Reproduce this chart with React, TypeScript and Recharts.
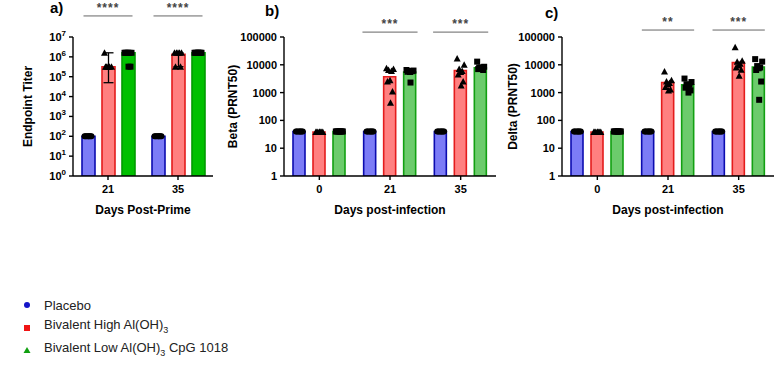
import React from "react";
import {
  ComposedChart,
  Bar,
  Scatter,
  XAxis,
  YAxis,
  ErrorBar,
  ReferenceLine,
  Label,
} from "recharts";

const FONT = "Arial, 'Liberation Sans', Helvetica, sans-serif";

// a) endpoint titer after prime
const daysA = ["21", "35"];
const placeboA = [100, 100];
const highA = [320000, 1360000];
const lowA = [1600000, 1600000];
const highErrA = [
  [270000, 1280000],
  [1040000, 240000],
];
const placeboPtsA = [
  [100, 100, 100, 100, 100, 100, 100, 100],
  [100, 100, 100, 100, 100, 100, 100, 100],
];
const highPtsA = [
  [1600000, 320000, 320000, 320000, 320000, 320000],
  [1600000, 1600000, 1600000, 1600000, 1600000, 320000, 320000],
];
const lowPtsA = [
  [1600000, 1600000, 1600000, 1600000, 1600000, 1600000, 320000, 320000],
  [1600000, 1600000, 1600000, 1600000, 1600000, 1600000, 1600000, 1600000],
];
const ticksA = [1, 10, 100, 1000, 10000, 100000, 1000000, 10000000];
const sigA = ["****", "****"];

// b) Beta neutralisation
const daysB = ["0", "21", "35"];
const placeboB = [40, 40, 40];
const highB = [38, 3700, 6200];
const lowB = [40, 5500, 7800];
const placeboPtsB = [
  [40, 40, 40, 40, 40, 40, 40, 40],
  [40, 40, 40, 40, 40, 40, 40, 40],
  [40, 40, 40, 40, 40, 40, 40, 40],
];
const highPtsB = [
  [38, 38, 38, 38, 38, 38, 38, 38],
  [7500, 7000, 6500, 6000, 2800, 2500, 1100, 430],
  [17000, 10000, 7000, 6000, 5500, 4500, 2500, 1800],
];
const lowPtsB = [
  [40, 40, 40, 40, 40, 40, 40, 40],
  [6500, 6200, 6000, 5800, 5500, 5600, 6000, 2300],
  [13000, 8500, 8000, 7500, 7500, 7000, 6500, 8000],
];
const sigB = ["", "***", "***"];

// c) Delta neutralisation
const daysC = ["0", "21", "35"];
const placeboC = [40, 40, 40];
const highC = [38, 2300, 12000];
const lowC = [40, 1900, 8300];
const placeboPtsC = placeboPtsB;
const highPtsC = [
  [38, 38, 38, 38, 38, 38, 38, 38],
  [5700, 2800, 2500, 2200, 2000, 1600, 1300, 1200],
  [43000, 14000, 13000, 11000, 9500, 8000, 6600, 4000],
];
const lowPtsC = [
  [40, 40, 40, 40, 40, 40, 40, 40],
  [3200, 2400, 2000, 1900, 1800, 1500, 1200, 1000],
  [16000, 13000, 9000, 8000, 7500, 6500, 2500, 550],
];
const sigC = ["", "**", "***"];

const ticksBC = [1, 10, 100, 1000, 10000, 100000];

const BLUE = { fill: "#7c7cf6", stroke: "#0c0cb0" };
const RED = { fill: "#ff8080", stroke: "#e41c1c" };
const GREEN_DARK = { fill: "#00c000", stroke: "#009a00" };
const GREEN_LIGHT = { fill: "#6ccb6c", stroke: "#12a012" };

// horizontal spread of the dots inside a bar, in px
const JITTER = [-3.5, 3.5, -1.5, 1.5, 0, -2.5, 2.5, 0.5];

function PowerTick(props: any) {
  const { x, y, payload } = props;
  const exp = Math.round(Math.log10(payload.value));
  return (
    <text x={x} y={y} dy={4} textAnchor="end" fontSize={11} fontWeight="bold" fill="#000" fontFamily={FONT}>
      <tspan>10</tspan>
      <tspan dy={-5} fontSize={8}>
        {exp}
      </tspan>
    </text>
  );
}

function Marker(props: any) {
  const { cx, cy, payload } = props;
  if (cx == null || cy == null) return null;
  if (payload.kind === "circle") return <circle cx={cx} cy={cy} r={3} fill="#000" />;
  if (payload.kind === "square") return <rect x={cx - 3} y={cy - 3} width={6} height={6} fill="#000" />;
  return <path d={`M${cx},${cy - 3.5} L${cx + 3.5},${cy + 3} L${cx - 3.5},${cy + 3} Z`} fill="#000" />;
}

type PanelProps = {
  left: number;
  width: number;
  yAxisWidth: number;
  marginRight: number;
  labelOffset: number;
  days: string[];
  placebo: number[];
  high: number[];
  low: number[];
  highErr?: number[][];
  placeboPts: number[][];
  highPts: number[][];
  lowPts: number[][];
  ticks: number[];
  powerTicks?: boolean;
  yLabel: string;
  xLabel: string;
  sig: string[];
  sigY: number;
  sigHalf: number;
  barSize: number;
  barGap: number;
  green: { fill: string; stroke: string };
};

function Panel(p: PanelProps) {
  const height = 220;
  const top = 37;
  const plotW = p.width - p.yAxisWidth - p.marginRight;
  const band = plotW / p.days.length;
  const step = (p.barSize + p.barGap) / band;

  const rows = p.days.map((d, i) => ({
    day: d,
    placebo: p.placebo[i],
    high: p.high[i],
    low: p.low[i],
    highErr: p.highErr ? p.highErr[i] : undefined,
  }));

  const dots = (pts: number[][], shift: number, kind: string) =>
    pts.flatMap((vals, g) =>
      vals.map((v, k) => ({ x: g + shift * step + JITTER[k % JITTER.length] / band, y: v, kind }))
    );

  const axisTick = { fontSize: 11, fontWeight: "bold", fill: "#000", fontFamily: FONT };
  const maxY = p.ticks[p.ticks.length - 1];

  return (
    <div style={{ position: "absolute", left: p.left, top: 0 }}>
      <ComposedChart
        width={p.width}
        height={height}
        data={rows}
        margin={{ top, right: p.marginRight, bottom: 0, left: 0 }}
        barGap={p.barGap}
      >
        <XAxis
          xAxisId="cat"
          dataKey="day"
          height={44}
          axisLine={{ stroke: "#000", strokeWidth: 1.4 }}
          tickLine={{ stroke: "#000", strokeWidth: 1.4 }}
          tickSize={4}
          tickMargin={5}
          tick={axisTick}
        >
          <Label
            value={p.xLabel}
            position="insideBottom"
            offset={6}
            style={{ fontSize: 12, fontWeight: "bold", fill: "#000", fontFamily: FONT }}
          />
        </XAxis>
        <XAxis
          xAxisId="num"
          type="number"
          dataKey="x"
          domain={[-0.5, p.days.length - 0.5]}
          allowDataOverflow
          hide
        />
        <YAxis
          scale="log"
          domain={[1, maxY]}
          ticks={p.ticks}
          allowDataOverflow
          width={p.yAxisWidth}
          axisLine={{ stroke: "#000", strokeWidth: 1.4 }}
          tickLine={{ stroke: "#000", strokeWidth: 1.4 }}
          tickSize={4}
          tickMargin={3}
          tick={p.powerTicks ? <PowerTick /> : axisTick}
          interval={0}
        >
          <Label
            value={p.yLabel}
            angle={-90}
            position="insideLeft"
            offset={p.labelOffset}
            style={{ fontSize: 12, fontWeight: "bold", fill: "#000", fontFamily: FONT, textAnchor: "middle" }}
          />
        </YAxis>
        <Bar
          xAxisId="cat"
          dataKey="placebo"
          barSize={p.barSize}
          fill={BLUE.fill}
          stroke={BLUE.stroke}
          strokeWidth={1.6}
          isAnimationActive={false}
        />
        <Bar
          xAxisId="cat"
          dataKey="high"
          barSize={p.barSize}
          fill={RED.fill}
          stroke={RED.stroke}
          strokeWidth={1.6}
          isAnimationActive={false}
        >
          {p.highErr && (
            <ErrorBar dataKey="highErr" width={5} stroke="#000" strokeWidth={1.3} direction="y" />
          )}
        </Bar>
        <Bar
          xAxisId="cat"
          dataKey="low"
          barSize={p.barSize}
          fill={p.green.fill}
          stroke={p.green.stroke}
          strokeWidth={1.6}
          isAnimationActive={false}
        />
        <Scatter xAxisId="num" data={dots(p.placeboPts, -1, "circle")} dataKey="y" shape={<Marker />} isAnimationActive={false} />
        <Scatter xAxisId="num" data={dots(p.highPts, 0, "triangle")} dataKey="y" shape={<Marker />} isAnimationActive={false} />
        <Scatter xAxisId="num" data={dots(p.lowPts, 1, "square")} dataKey="y" shape={<Marker />} isAnimationActive={false} />
        {p.sig.map((s, i) =>
          s ? (
            <ReferenceLine
              key={i}
              xAxisId="num"
              ifOverflow="visible"
              stroke="#666"
              strokeWidth={1}
              segment={[
                { x: i - p.sigHalf, y: p.sigY },
                { x: i + p.sigHalf, y: p.sigY },
              ]}
            >
              <Label
                value={s}
                position="top"
                offset={4}
                style={{ fontSize: 12, fontWeight: "bold", fill: "#444", fontFamily: FONT, letterSpacing: 1 }}
              />
            </ReferenceLine>
          ) : null
        )}
      </ComposedChart>
    </div>
  );
}

const legendItems = [
  { key: "placebo", label: <>Placebo</>, color: "#1414c8", shape: "circle" },
  { key: "high", label: <>Bivalent High Al(OH)<sub style={{ fontSize: 9 }}>3</sub></>, color: "#f01414", shape: "square" },
  {
    key: "low",
    label: <>Bivalent Low Al(OH)<sub style={{ fontSize: 9 }}>3</sub> CpG 1018</>,
    color: "#10a010",
    shape: "triangle",
  },
];

function Legend() {
  return (
    <div style={{ position: "absolute", left: 21, top: 294 }}>
      {legendItems.map((it) => (
        <div key={it.key} style={{ display: "flex", alignItems: "center", height: 22.5 }}>
          <svg width={12} height={12} style={{ marginRight: 11 }}>
            {it.shape === "circle" && <circle cx={6} cy={6} r={3} fill={it.color} />}
            {it.shape === "square" && <rect x={3} y={3} width={6} height={6} fill={it.color} />}
            {it.shape === "triangle" && <path d="M6,3 L9.5,9 L2.5,9 Z" fill={it.color} />}
          </svg>
          <span style={{ fontSize: 13, color: "#222", fontFamily: FONT, lineHeight: "13px" }}>{it.label}</span>
        </div>
      ))}
    </div>
  );
}

const titleStyle: React.CSSProperties = {
  position: "absolute",
  fontSize: 15,
  fontWeight: "bold",
  fontFamily: FONT,
  lineHeight: "15px",
  color: "#000",
};

export default function App() {
  return (
    <div style={{ position: "absolute", left: 0, top: 0, width: 776, height: 375, background: "#fff", overflow: "hidden" }}>
      <div style={{ ...titleStyle, left: 50, top: 0 }}>a)</div>
      <div style={{ ...titleStyle, left: 265, top: 3 }}>b)</div>
      <div style={{ ...titleStyle, left: 545, top: 5 }}>c)</div>
      <Panel
        left={0}
        width={220}
        yAxisWidth={73}
        marginRight={7}
        labelOffset={28}
        days={daysA}
        placebo={placeboA}
        high={highA}
        low={lowA}
        highErr={highErrA}
        placeboPts={placeboPtsA}
        highPts={highPtsA}
        lowPts={lowPtsA}
        ticks={ticksA}
        powerTicks
        yLabel="Endpoint Titer"
        xLabel="Days Post-Prime"
        sig={sigA}
        sigY={115000000}
        sigHalf={0.35}
        barSize={13}
        barGap={7}
        green={GREEN_DARK}
      />
      <Panel
        left={220}
        width={282}
        yAxisWidth={64}
        marginRight={6}
        labelOffset={13}
        days={daysB}
        placebo={placeboB}
        high={highB}
        low={lowB}
        placeboPts={placeboPtsB}
        highPts={highPtsB}
        lowPts={lowPtsB}
        ticks={ticksBC}
        yLabel="Beta (PRNT50)"
        xLabel="Days post-infection"
        sig={sigB}
        sigY={150000}
        sigHalf={0.39}
        barSize={12}
        barGap={8}
        green={GREEN_LIGHT}
      />
      <Panel
        left={503}
        width={273}
        yAxisWidth={59}
        marginRight={2}
        labelOffset={10}
        days={daysC}
        placebo={placeboC}
        high={highC}
        low={lowC}
        placeboPts={placeboPtsC}
        highPts={highPtsC}
        lowPts={lowPtsC}
        ticks={ticksBC}
        yLabel="Delta (PRNT50)"
        xLabel="Days post-infection"
        sig={sigC}
        sigY={178000}
        sigHalf={0.37}
        barSize={12}
        barGap={8}
        green={GREEN_LIGHT}
      />
      <Legend />
    </div>
  );
}
